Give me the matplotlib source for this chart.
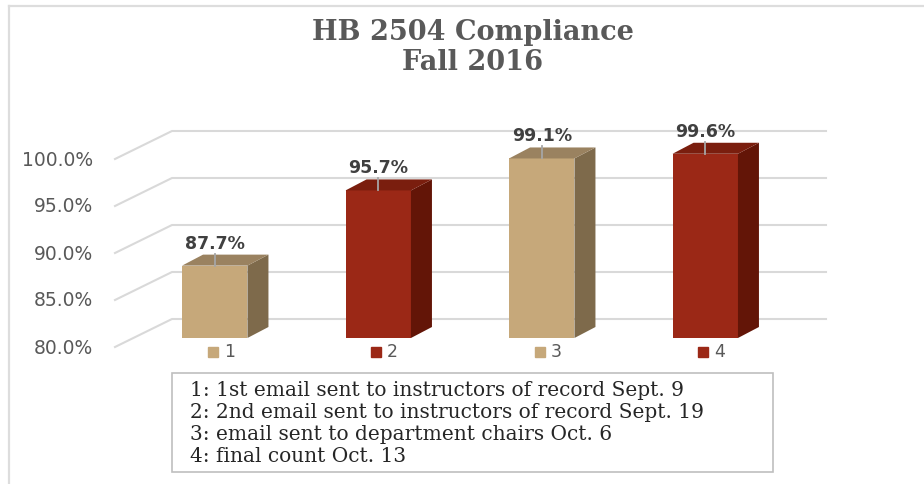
import matplotlib
matplotlib.use("Agg")
import matplotlib.pyplot as plt
from matplotlib.patches import Polygon, Rectangle
from matplotlib.lines import Line2D

# ---- data ----
categories = ["1", "2", "3", "4"]
values = [87.7, 95.7, 99.1, 99.6]
y_ticks = [80, 85, 90, 95, 100]
title_lines = ["HB 2504 Compliance", "Fall 2016"]
notes = [
    "1: 1st email sent to instructors of record Sept. 9",
    "2: 2nd email sent to instructors of record Sept. 19",
    "3: email sent to department chairs Oct. 6",
    "4: final count Oct. 13",
]

# ---- style ----
front_cols = ["#C6A87A", "#9B2816", "#C6A87A", "#9B2816"]
side_cols = ["#7E6A4B", "#631507", "#7E6A4B", "#631507"]
top_cols = ["#9A8260", "#7A1E0E", "#9A8260", "#7A1E0E"]
grid_col = "#D9D9D9"
text_gray = "#595959"

W, H = 924, 484
fig = plt.figure(figsize=(W / 100, H / 100), dpi=100)
fig.patch.set_facecolor("white")

# axes = the front plane of the bars
ax_l, ax_r, ax_b, ax_t = 133, 787, 338, 150
ax = fig.add_axes([ax_l / W, 1 - ax_b / H, (ax_r - ax_l) / W, (ax_b - ax_t) / H])
xmin, xmax = -0.5, len(categories) - 0.5
ymin, ymax = y_ticks[0], y_ticks[-1]
ax.set_xlim(xmin, xmax)
ax.set_ylim(ymin, ymax)
ax.axis("off")

sx = (ax_r - ax_l) / (xmax - xmin)
sy = (ax_b - ax_t) / (ymax - ymin)


def dx(p):
    return p / sx


def dy(p):
    return p / sy


# frame lines of the chart area
fig.add_artist(Line2D([9 / W, 9 / W], [0, 1 - 6 / H], color="#DDDDDD", lw=1.6))
fig.add_artist(Line2D([9 / W, 1], [1 - 6 / H, 1 - 6 / H], color="#DDDDDD", lw=1.6))

# gridlines (side wall + back wall)
for v in y_ticks:
    xf = xmin - dx(18)
    xb = xmin + dx(39)
    xr = xmax + dx(39)
    ax.plot([xf, xb, xr], [v - dy(9), v + dy(19), v + dy(19)],
            color=grid_col, lw=1.5, clip_on=False, zorder=1)
    ax.text(xf - dx(22), v - dy(10), f"{v:.1f}%", ha="right", va="center",
            fontsize=13.5, color=text_gray, family="DejaVu Sans", clip_on=False)

# bars
xs = list(range(len(categories)))
bw = 0.4
ddx, ddy = dx(21), dy(11)
ax.bar(xs, [v - ymin for v in values], bottom=ymin, width=bw,
       color=front_cols, edgecolor="none", zorder=3)
for i, v in enumerate(values):
    xr_ = i + bw / 2
    xl_ = i - bw / 2
    side = Polygon([(xr_, ymin), (xr_ + ddx, ymin + ddy), (xr_ + ddx, v + ddy), (xr_, v)],
                   closed=True, facecolor=side_cols[i], edgecolor="none", zorder=3, clip_on=False)
    top = Polygon([(xl_, v), (xl_ + ddx, v + ddy), (xr_ + ddx, v + ddy), (xr_, v)],
                  closed=True, facecolor=top_cols[i], edgecolor="none", zorder=3, clip_on=False)
    ax.add_patch(side)
    ax.add_patch(top)
    # leader line + data label
    ax.plot([i, i], [v, v + dy(12)], color="#A6A6A6", lw=1.3, zorder=4, clip_on=False)
    ax.text(i, v + dy(22), f"{v:.1f}%", ha="center", va="center", fontsize=12.5,
            fontweight="bold", color="#404040", family="DejaVu Sans", clip_on=False, zorder=5)
    # category legend entries
    ax.plot([i - dx(2)], [ymin - dy(14)], marker="s", markersize=7, color=front_cols[i],
            lw=0, clip_on=False)
    ax.text(i + dx(9), ymin - dy(14), categories[i], ha="left", va="center", fontsize=12.5,
            color=text_gray, family="DejaVu Sans", clip_on=False)

# title
fig.text(473 / W, 1 - 32.5 / H, title_lines[0], ha="center", va="center", fontsize=19.5,
         fontweight="bold", family="DejaVu Serif", color=text_gray)
fig.text(473 / W, 1 - 62 / H, title_lines[1], ha="center", va="center", fontsize=19.5,
         fontweight="bold", family="DejaVu Serif", color=text_gray)

# notes box
bx0, bx1, by0, by1 = 172, 773, 373, 472
fig.add_artist(Rectangle((bx0 / W, 1 - by1 / H), (bx1 - bx0) / W, (by1 - by0) / H,
                         transform=fig.transFigure, facecolor="white",
                         edgecolor="#BFBFBF", lw=1.2))
for k, line in enumerate(notes):
    fig.text(190 / W, 1 - (391 + 21.7 * k) / H, line, ha="left", va="center",
             fontsize=14.5, family="DejaVu Serif", color="#262626")

fig.savefig("out.png", dpi=100, facecolor="white")
